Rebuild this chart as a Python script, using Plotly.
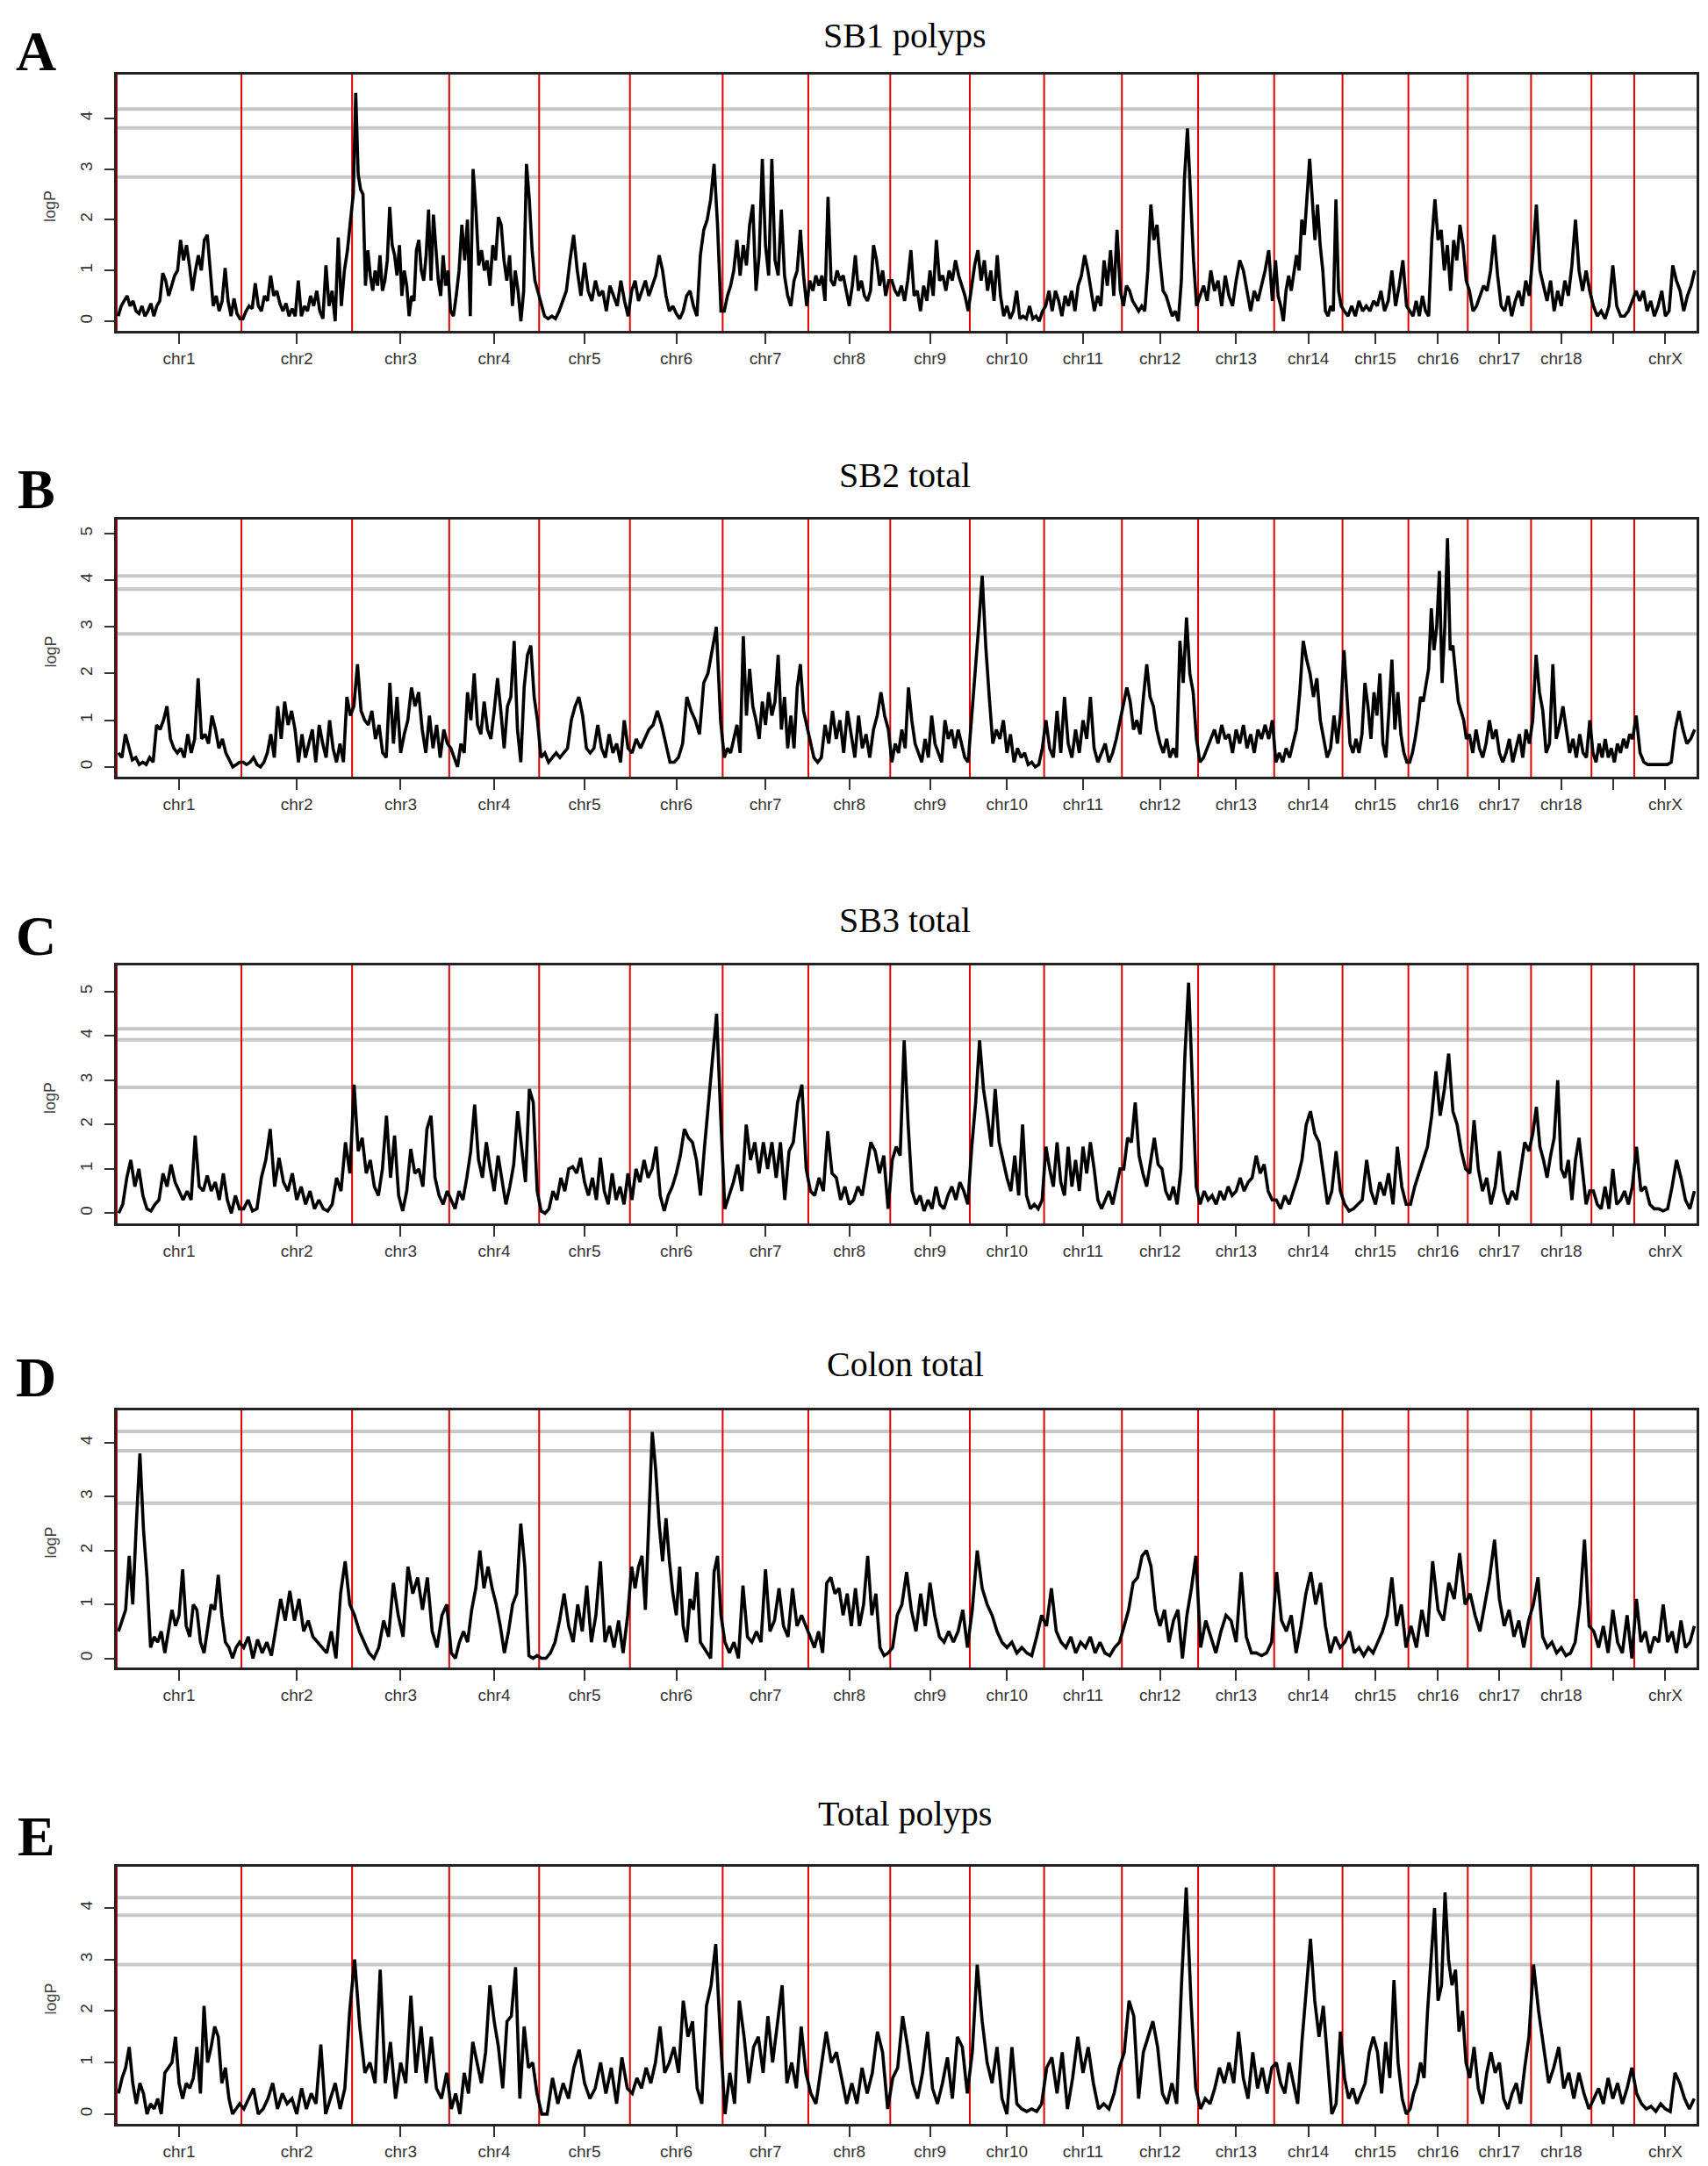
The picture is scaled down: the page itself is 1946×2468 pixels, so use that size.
import plotly.graph_objects as go

# ---------------- data ----------------
chrom_tick_labels = ["chr1", "chr2", "chr3", "chr4", "chr5", "chr6", "chr7", "chr8", "chr9", "chr10",
                     "chr11", "chr12", "chr13", "chr14", "chr15", "chr16", "chr17", "chr18", "", "chrX"]
# chromosome lengths (map units)
chrom_lengths = [142, 126, 110.6, 102.4, 103.4, 105.6, 97.5, 93.3, 90.6, 84.6,
                 88.6, 86.8, 86.6, 77.8, 75, 67.6, 72.1, 68.8, 48.7, 71]

sb1_polyps = [
    [0.1,0.3,0.4,0.5,0.3,0.4,0.2,0.15,0.3,0.1,0.2,0.35,0.1,0.3,0.4,0.95,0.8,0.5,0.7,0.9,1.0,1.6,1.2,1.5,1.1,0.6,1.0,1.3,1.0,1.6,1.7,0.9,0.3,0.5,0.2,0.4,1.05,0.4,0.1,0.45,0.15,0.05],
    [0.05,0.2,0.3,0.25,0.75,0.3,0.2,0.5,0.4,0.9,0.5,0.6,0.35,0.2,0.35,0.1,0.25,0.1,0.8,0.1,0.3,0.2,0.5,0.3,0.6,0.2,0.05,1.1,0.3,0.6,0.0,1.65,0.3,1.0,1.4,2.0],
    [2.5,4.5,2.9,2.6,2.5,0.7,1.4,0.9,0.6,1.0,0.7,1.3,0.6,0.8,1.2,2.25,1.5,1.3,0.9,1.5,0.5,1.0,0.7,0.1,0.5,0.4,1.4,1.6,1.0,0.8,1.3,2.2,0.8,2.1,1.4,0.8,0.5,1.3,0.7,1.0],
    [0.2,0.1,0.5,1.0,1.9,1.2,2.0,0.1,3.0,2.2,1.1,1.4,1.0,1.2,0.7,1.5,1.2,2.05,1.9,1.2,0.8,1.3,0.3,1.0,0.6,0.0,0.6,3.1,2.4,1.4,0.8,0.6],
    [0.4,0.1,0.05,0.1,0.05,0.2,0.4,0.6,1.2,1.7,1.0,0.5,1.15,0.6,0.4,0.8,0.5,0.6,0.2,0.7,0.5,0.3,0.8,0.4,0.1],
    [0.6,0.8,0.4,0.6,0.8,0.5,0.7,0.9,1.3,1.0,0.5,0.2,0.3,0.15,0.05,0.2,0.5,0.6,0.3,0.1,1.3,1.8,2.0,2.4,3.1,1.9,0.2],
    [0.2,0.5,0.7,1.0,1.6,0.9,1.5,1.1,1.9,2.3,0.6,1.3,3.2,1.5,0.9,3.2,1.2,0.9,2.2,0.9,0.5,0.3,0.8,1.0,1.8,0.9,0.3],
    [0.8,0.6,0.9,0.7,0.9,0.4,2.45,0.8,0.7,1.0,0.8,0.9,0.6,0.3,0.7,1.3,0.6,0.8,0.5,0.4,0.6,1.5,1.2,0.7,1.0,0.5,0.8],
    [0.8,0.6,0.5,0.7,0.4,0.8,1.4,0.5,0.6,0.2,0.7,0.4,1.0,0.5,1.6,0.8,0.9,0.6,1.0,0.8,1.2,0.9,0.7,0.5,0.2],
    [0.6,1.1,1.4,0.8,1.2,0.6,1.0,0.4,1.3,0.5,0.1,0.3,0.05,0.2,0.6,0.05,0.1,0.05,0.3,0.05,0.1,0.0,0.2],
    [0.3,0.6,0.2,0.6,0.4,0.1,0.5,0.3,0.6,0.2,0.7,0.9,1.3,1.0,0.6,0.2,0.5,0.3,1.2,0.7,1.4,0.5,1.8,0.6],
    [0.3,0.7,0.6,0.4,0.3,0.2,0.3,0.2,1.0,2.3,1.6,1.9,1.2,0.6,0.5,0.3,0.1,0.2,0.0,0.8,2.8,3.8,2.5,1.2,0.3],
    [0.5,0.7,0.4,1.0,0.6,0.8,0.3,0.9,0.5,0.3,0.8,1.2,1.0,0.6,0.2,0.6,0.4,0.7,1.0,1.4,0.4],
    [1.2,0.5,0.3,0.0,0.6,0.9,0.6,1.0,1.3,1.0,2.0,1.7,2.5,3.2,2.4,1.6,2.3,1.5,1.0,0.2,0.1,0.3,0.2,2.4,0.6,0.3],
    [0.2,0.1,0.3,0.1,0.4,0.2,0.3,0.2,0.4,0.3,0.6,0.2,0.4,1.0,0.3,0.7,1.2,0.3],
    [0.2,0.1,0.4,0.1,0.5,0.2,0.1,1.6,2.4,1.6,1.8,1.0,1.5,0.6,1.6,1.2,1.9,1.5,0.8],
    [0.6,0.2,0.3,0.5,0.7,0.6,1.0,1.7,0.9,0.3,0.2,0.5,0.1,0.4,0.6,0.3,0.8,0.5],
    [1.3,2.3,1.0,0.7,0.4,0.8,0.2,0.6,0.3,0.8,0.5,1.1,2.0,1.0,0.6,1.0,0.6],
    [0.3,0.1,0.2,0.05,0.3,1.1,0.3,0.1,0.1,0.2,0.4],
    [0.6,0.4,0.6,0.2,0.4,0.1,0.3,0.6,0.1,0.2,1.1,0.8,0.6,0.2,0.5,0.7,1.0],
]

sb2_total = [
    [0.3,0.2,0.7,0.4,0.15,0.2,0.05,0.1,0.05,0.2,0.1,0.9,0.8,1.0,1.3,0.6,0.4,0.3,0.4,0.2,0.7,0.3,0.6,1.9,0.6,0.7,0.5,1.1,0.8,0.4,0.6,0.3,0.15,0.0,0.05,0.1],
    [0.1,0.05,0.1,0.2,0.05,0.0,0.1,0.3,0.7,0.2,1.3,0.6,1.4,0.9,1.2,0.8,0.1,0.7,0.2,0.5,0.8,0.1,0.9,0.5,0.2,1.0,0.4,0.1,0.5,0.1,1.5,1.1],
    [1.3,2.2,1.2,1.0,0.9,1.2,0.6,0.9,0.3,0.2,1.8,0.5,1.5,0.3,0.7,1.0,1.7,1.3,1.6,0.8,0.3,1.1,0.4,0.9,0.2,0.8,0.5],
    [0.4,0.2,0.0,0.5,0.3,1.6,1.0,2.0,0.9,0.7,1.4,0.8,0.6,1.2,1.9,1.2,0.4,1.3,1.5,2.7,0.8,0.1,1.7,2.4,2.6,1.5,1.0],
    [0.2,0.3,0.1,0.2,0.3,0.2,0.3,0.4,1.0,1.3,1.5,1.1,0.4,0.3,0.4,0.9,0.4,0.2,0.7,0.3,0.5,0.1,1.0,0.4],
    [0.3,0.6,0.4,0.6,0.8,0.9,1.2,0.9,0.5,0.1,0.1,0.2,0.5,1.5,1.2,1.0,0.7,1.8,2.0,2.5,3.0,1.0],
    [0.2,0.4,0.3,0.6,0.9,0.3,2.8,1.1,2.1,1.3,1.0,0.6,1.4,0.9,1.6,1.1,1.4,2.4,0.8,1.5,0.4,1.1,0.4,1.7,2.2,1.2,0.9],
    [0.6,0.2,0.1,0.2,0.9,0.5,1.2,0.6,1.0,0.3,1.2,0.7,0.2,1.1,0.4,0.7,0.2,0.8,1.1,1.6,1.1,0.8],
    [0.1,0.5,0.3,0.8,0.4,1.7,1.0,0.5,0.3,0.1,0.6,0.2,1.1,0.5,0.3,0.1,1.0,0.6,0.8,0.4,0.8,0.5,0.2,0.1],
    [1.0,2.0,3.0,4.1,2.6,1.5,0.5,0.8,0.6,1.0,0.3,0.7,0.1,0.4,0.2,0.3,0.05,0.1,0.0,0.05,0.4],
    [1.0,0.4,0.2,1.2,0.3,1.5,0.5,0.2,0.8,0.3,1.0,0.6,1.5,0.4,0.1,0.3,0.5,0.1,0.3,0.6,1.0],
    [1.3,1.7,1.4,0.8,1.0,0.7,1.5,2.2,1.5,1.3,0.8,0.5,0.3,0.6,0.2,0.4,0.2,2.7,1.8,3.2,2.0,1.6,0.6],
    [0.1,0.2,0.4,0.6,0.8,0.5,0.9,0.6,0.7,0.3,0.8,0.5,0.9,0.4,0.7,0.3,0.8,0.6,0.9,0.6,1.0],
    [0.1,0.3,0.1,0.4,0.2,0.5,0.8,1.6,2.7,2.3,2.0,1.5,1.9,1.0,0.6,0.2,0.4,1.1,0.5,1.2],
    [2.5,1.5,0.5,0.3,0.6,0.3,0.7,1.8,1.3,0.6,1.6,1.1,2.0,0.5,0.2,1.2,2.3,0.8,1.6,0.7,0.3,0.1],
    [0.1,0.3,0.6,1.0,1.5,1.4,1.8,2.1,3.4,2.5,3.0,4.2,1.8,3.0,4.9,2.5,2.6,2.0,1.4,1.2,1.0,0.6],
    [0.7,0.3,0.8,0.4,0.2,0.5,1.0,0.6,0.8,0.3,0.1,0.3,0.6,0.1,0.4,0.7,0.2,0.8,0.5],
    [1.0,2.4,1.6,1.2,0.3,0.5,2.2,0.6,0.9,1.3,0.8,0.3,0.6,0.2,0.7,0.3,0.2,1.0],
    [0.3,0.1,0.5,0.2,0.6,0.2,0.4,0.1,0.5,0.3,0.6,0.4,0.7,0.6],
    [1.1,0.3,0.1,0.05,0.05,0.05,0.05,0.05,0.05,0.1,0.8,1.2,0.8,0.5,0.6,0.8],
]

sb3_total = [
    [0.0,0.2,0.8,1.2,0.6,1.0,0.4,0.1,0.05,0.2,0.3,0.9,0.6,1.1,0.7,0.5,0.3,0.5,0.3,1.75,0.6,0.5,0.85,0.5,0.7,0.3,0.9,0.3,0.0,0.4,0.1],
    [0.1,0.3,0.05,0.1,0.8,1.2,1.9,0.6,1.25,0.7,0.5,0.9,0.3,0.6,0.2,0.5,0.1,0.3,0.1,0.05,0.2,0.8,0.5,1.6,0.9],
    [2.9,1.4,1.7,0.9,1.2,0.6,0.4,1.0,2.2,0.8,1.75,0.4,0.05,0.5,1.45,0.9,1.0,0.6,1.9,2.2,0.8,0.4,0.2,0.5],
    [0.3,0.1,0.5,0.3,0.8,1.4,2.45,1.2,0.8,1.6,1.0,0.5,1.3,0.7,0.2,0.6,1.1,2.3,1.5,0.7,2.8,2.5,0.5],
    [0.05,0.0,0.1,0.5,0.3,0.8,0.5,1.0,1.05,0.9,1.25,0.7,0.4,0.8,0.3,1.25,0.5,0.2,0.9,0.3,0.6,0.2,0.9],
    [0.3,1.0,0.7,1.2,0.8,1.0,1.5,0.4,0.05,0.4,0.6,0.9,1.3,1.9,1.7,1.6,1.2,0.4,1.5,2.5,3.6,4.5,2.2],
    [0.1,0.4,0.7,1.1,0.5,2.0,1.2,1.6,0.9,1.6,1.0,1.6,0.8,1.6,0.3,1.4,1.6,2.5,2.9,1.0],
    [0.5,0.4,0.8,0.5,1.85,0.9,0.8,0.3,0.6,0.2,0.3,0.6,0.4,1.0,1.6,1.4,0.9,1.3,0.1],
    [1.2,1.5,1.3,3.9,2.0,0.5,0.2,0.4,0.05,0.3,0.1,0.6,0.2,0.1,0.4,0.6,0.3,0.7,0.5,0.2],
    [1.5,2.5,3.9,2.8,2.2,1.5,2.8,1.6,1.2,0.8,0.5,1.3,0.4,2.0,0.4,0.1,0.2,0.1,0.3],
    [1.5,1.0,0.6,1.6,0.7,0.4,1.5,0.6,1.2,0.5,1.5,0.9,1.6,1.0,0.3,0.1,0.3,0.5,0.2,0.6,1.0],
    [1.0,1.7,1.6,2.5,1.3,0.9,0.6,1.2,1.7,1.1,1.0,0.5,0.3,0.6,0.2,1.0,3.5,5.2,3.0,0.6],
    [0.2,0.5,0.3,0.4,0.2,0.5,0.3,0.6,0.4,0.5,0.8,0.5,0.7,0.8,1.3,0.9,1.1,0.5,0.3],
    [0.3,0.1,0.4,0.2,0.5,0.8,1.2,2.0,2.3,1.8,1.6,0.9,0.2,0.5,1.4,0.5],
    [0.2,0.05,0.1,0.2,0.3,1.2,0.5,0.2,0.7,0.4,0.9,0.2,1.5,0.6,0.2],
    [0.2,0.6,0.9,1.2,1.5,2.2,3.2,2.2,2.8,3.6,2.3,2.0,1.4,1.0],
    [0.9,2.1,1.0,0.5,0.8,0.2,0.6,1.4,0.5,0.2,0.5,0.3,0.9,1.6,1.4],
    [1.8,2.4,1.5,1.2,0.8,1.3,1.7,3.0,1.0,0.8,1.2,0.3,1.2,1.7,1.0,0.2,0.5],
    [0.5,0.2,0.1,0.6,0.1,1.0,0.2,0.3,0.5,0.2,0.6],
    [1.5,0.5,0.6,0.2,0.1,0.1,0.05,0.1,0.6,1.2,0.8,0.3,0.1,0.5],
]

colon_total = [
    [0.5,0.7,0.9,1.9,1.0,2.5,3.8,2.4,1.5,0.2,0.4,0.3,0.5,0.1,0.5,0.9,0.6,0.8,1.65,0.6,0.4,1.0,0.9,0.3,0.1,0.6,1.0,0.9,1.55,0.8,0.3,0.2,0.0,0.2,0.3],
    [0.2,0.4,0.0,0.35,0.1,0.3,0.05,0.6,1.1,0.7,1.25,0.7,1.1,0.5,0.7,0.4,0.3,0.2,0.1,0.5,0.0,1.2,1.8,1.0],
    [0.8,0.5,0.3,0.1,0.0,0.2,0.7,0.4,1.4,0.8,0.4,1.7,1.2,1.5,0.9,1.5,0.5,0.2,0.8,1.0],
    [0.1,0.0,0.3,0.5,0.3,0.9,1.3,2.0,1.3,1.7,1.3,1.0,0.6,0.1,0.5,1.0,1.2,2.5,1.7,0.05,0.0,0.05],
    [0.0,0.0,0.1,0.3,0.7,1.2,0.6,0.3,1.0,0.5,1.35,0.3,0.8,1.8,0.3,0.6,0.2,0.7,0.1,0.8],
    [1.7,1.3,1.7,1.9,0.9,2.5,4.2,3.5,2.5,1.8,2.6,1.8,1.2,0.8,1.7,0.6,0.3,1.1,0.9,1.6,0.3,0.2,0.1,0.0,1.6,1.9,0.8],
    [0.3,0.1,0.3,0.0,1.35,0.4,0.3,0.5,0.3,1.65,0.5,0.7,1.3,0.6,0.4,1.3,0.6,0.8,0.6],
    [0.4,0.2,0.5,0.1,1.4,1.5,1.2,1.3,0.8,1.2,0.6,1.3,0.6,1.0,1.9,0.8,1.2,0.2,0.05,0.1],
    [0.2,0.8,1.0,1.6,0.9,0.5,1.2,0.6,1.4,0.8,0.4,0.3,0.5,0.3,0.5,0.9,0.2],
    [0.9,2.0,1.3,1.0,0.8,0.5,0.3,0.2,0.3,0.1,0.2,0.1,0.05,0.4,0.8],
    [0.6,1.3,0.5,0.3,0.2,0.4,0.1,0.3,0.2,0.4,0.1,0.3,0.1,0.05,0.2,0.3],
    [0.6,0.9,1.4,1.5,1.9,2.0,1.7,0.9,0.6,0.9,0.3,0.7,0.9,0.0,0.8,1.3,1.9],
    [0.2,0.7,0.4,0.1,0.5,0.8,0.7,0.3,1.6,0.4,0.1,0.1,0.05,0.1,0.3],
    [1.6,0.7,0.5,0.8,0.1,0.6,1.2,1.6,1.0,1.4,0.6,0.1,0.4,0.2],
    [0.3,0.5,0.1,0.2,0.05,0.2,0.1,0.3,0.5,0.8,1.5,0.6,1.0,0.2],
    [0.6,0.2,0.9,0.4,1.8,0.9,0.7,1.4,1.1,1.95,1.0],
    [1.2,0.8,0.5,1.0,1.5,2.2,1.1,0.6,0.9,0.4,0.7,0.2,0.7],
    [1.0,1.5,0.4,0.2,0.3,0.1,0.2,0.05,0.1,0.3,1.0,2.2,0.6],
    [0.5,0.2,0.6,0.1,0.9,0.3,0.1,0.8,0.0],
    [1.1,0.3,0.5,0.1,0.4,0.3,1.0,0.3,0.5,0.1,0.7,0.2,0.3,0.6],
]

total_polyps = [
    [0.4,0.7,0.9,1.3,0.6,0.2,0.6,0.4,0.0,0.2,0.1,0.3,0.0,0.8,0.9,1.0,1.5,0.6,0.3,0.6,0.5,0.7,1.3,0.4,2.1,1.0,1.3,1.7,1.5,0.6,0.9,0.3,0.0,0.1,0.2],
    [0.1,0.3,0.5,0.0,0.1,0.3,0.6,0.1,0.4,0.2,0.3,0.0,0.5,0.1,0.4,0.2,1.35,0.0,0.3,0.6,0.1,0.5,2.0],
    [3.0,1.7,0.8,1.0,0.6,2.8,0.6,1.4,0.3,1.0,0.6,2.3,0.8,1.7,0.6,1.5,0.5,0.3,0.8],
    [0.1,0.4,0.0,0.8,0.4,1.4,1.0,0.6,1.2,2.5,1.8,1.3,0.5,1.8,1.9,2.85,0.3,1.7,0.9,1.0,0.4],
    [0.0,0.0,0.7,0.2,0.6,0.3,0.9,1.25,0.6,0.3,0.5,1.0,0.4,0.9,0.2,1.1,0.5],
    [0.4,0.7,0.5,0.9,0.6,1.0,1.7,0.8,1.0,1.3,0.8,2.2,1.5,1.8,0.5,0.2,2.1,2.5,3.3,1.5],
    [0.0,0.8,0.2,2.2,1.5,0.6,1.3,1.5,0.8,1.9,1.0,1.8,2.5,0.6,1.0,0.5,1.7,0.8],
    [0.4,0.2,0.9,1.6,1.0,1.2,0.7,0.2,0.6,0.2,0.9,0.4,0.8,1.6,1.2,0.1],
    [0.7,0.9,1.9,1.3,0.6,0.3,0.8,1.6,0.5,0.2,0.6,1.1,0.3,1.5,1.3,0.4],
    [1.2,2.9,1.8,1.0,0.6,1.3,0.3,0.0,1.3,0.2,0.1,0.05,0.1,0.05,0.2],
    [0.9,1.1,0.4,1.2,0.1,0.7,1.5,0.8,1.3,0.6,0.1,0.2,0.1,0.4,0.9],
    [1.2,2.2,1.9,0.3,1.2,1.5,1.8,1.3,0.4,0.2,0.6,0.2,2.5,4.4,2.2,0.5],
    [0.1,0.3,0.2,0.5,0.9,0.6,1.0,0.6,1.6,0.7,0.3,1.2,0.5,0.9,0.4,0.9],
    [1.0,0.6,0.4,1.0,0.6,0.2,1.4,2.4,3.4,2.2,1.5,2.1,1.0,0.0,0.2,1.6],
    [0.7,0.3,0.5,0.2,0.4,0.6,1.2,1.5,1.2,0.4,1.4,0.7,2.6,1.0,0.3,0.0],
    [0.1,0.4,0.6,1.0,0.7,2.0,3.0,4.0,2.2,2.5,4.3,3.0,2.5,2.8,1.6,2.0,1.0],
    [0.7,1.3,0.5,0.2,0.8,1.2,0.8,1.0,0.3,0.1,0.4,0.6,0.2,0.9,1.5],
    [2.9,2.0,1.3,0.6,0.9,1.3,0.5,0.8,0.3,0.8,0.4,0.1],
    [0.3,0.5,0.2,0.7,0.3,0.6,0.2,0.5,0.9],
    [0.4,0.2,0.1,0.15,0.05,0.2,0.1,0.05,0.8,0.6,0.3,0.1,0.3],
]

panel_series = [sb1_polyps, sb2_total, sb3_total, colon_total, total_polyps]
panel_titles = ["SB1 polyps", "SB2 total", "SB3 total", "Colon total", "Total polyps"]
panel_letters = ["A", "B", "C", "D", "E"]
panel_ymax_tick = [4, 5, 5, 4, 4]
panel_yranges = [[-0.19, 4.86], [-0.21, 5.30], [-0.23, 5.59], [-0.17, 4.60], [-0.19, 4.80]]
panel_thresholds = [[4.18, 3.81, 2.84], [4.09, 3.81, 2.85], [4.16, 3.91, 2.84],
                    [4.21, 3.85, 2.88], [4.20, 3.86, 2.90]]

# ---------------- layout geometry (pixels) ----------------
W, H = 1946, 2468
box_left, box_right = 125, 1925
box_tops = [77, 584, 1092, 1599, 2119]
box_bottoms = [369, 877, 1386, 1892, 2412]
title_ys = [33, 533, 1040, 1546, 2058]
letter_ys = [50, 549, 1058, 1561, 2084]

starts = []
acc = 0.0
for L in chrom_lengths:
    starts.append(acc)
    acc += L
total_len = acc
mids = [s + L / 2 for s, L in zip(starts, chrom_lengths)]

fig = go.Figure()
layout = dict(width=W, height=H, margin=dict(l=0, r=0, t=0, b=0),
              paper_bgcolor="white", plot_bgcolor="white", showlegend=False)
shapes = []
annotations = []

tick_font = dict(family="Liberation Sans, Arial, sans-serif", size=19, color="#333333")

for k in range(5):
    idx = k + 1
    xr = "x" if idx == 1 else f"x{idx}"
    yr = "y" if idx == 1 else f"y{idx}"
    xs, ys = [], []
    for c, vals in enumerate(panel_series[k]):
        n = len(vals)
        for i, v in enumerate(vals):
            xs.append(starts[c] + chrom_lengths[c] * (i + 0.5) / n)
            ys.append(v)
    fig.add_trace(go.Scatter(x=xs, y=ys, mode="lines",
                             line=dict(color="black", width=3.6),
                             xaxis=xr, yaxis=yr, hoverinfo="skip"))

    ydom = [1 - box_bottoms[k] / H, 1 - box_tops[k] / H]
    xdom = [box_left / W, box_right / W]
    xname = "xaxis" if idx == 1 else f"xaxis{idx}"
    yname = "yaxis" if idx == 1 else f"yaxis{idx}"
    layout[xname] = dict(domain=xdom, range=[0, total_len], anchor=yr,
                         tickvals=mids, ticktext=chrom_tick_labels,
                         ticks="outside", ticklen=12, tickwidth=2, tickcolor="#333333",
                         showgrid=False, zeroline=False, showline=True, mirror=True,
                         linewidth=3, linecolor="#222222", tickfont=tick_font,
                         ticklabelstandoff=0, fixedrange=True)
    layout[yname] = dict(domain=ydom, range=panel_yranges[k], anchor=xr,
                         tickvals=list(range(0, panel_ymax_tick[k] + 1)),
                         ticks="outside", ticklen=11, tickwidth=2, tickcolor="#333333",
                         tickangle=-90, showgrid=False, zeroline=False, showline=True,
                         mirror=True, linewidth=3, linecolor="#222222", tickfont=tick_font,
                         ticklabelstandoff=6, fixedrange=True)

    for t in panel_thresholds[k]:
        shapes.append(dict(type="line", xref=f"{xr} domain", yref=yr,
                           x0=0, x1=1, y0=t, y1=t, layer="below",
                           line=dict(color="#c8c8c8", width=4)))
    for s in starts:
        shapes.append(dict(type="line", xref=xr, yref=f"{yr} domain",
                           x0=s, x1=s, y0=0, y1=1, layer="below",
                           line=dict(color="#e00000", width=2)))

    annotations.append(dict(text=panel_titles[k], xref="paper", yref="paper",
                            x=1023 / W, y=1 - title_ys[k] / H, xanchor="center", yanchor="middle",
                            showarrow=False,
                            font=dict(family="Liberation Serif, Times New Roman, serif",
                                      size=40, color="black")))
    annotations.append(dict(text=f"<b>{panel_letters[k]}</b>", xref="paper", yref="paper",
                            x=33 / W, y=1 - letter_ys[k] / H, xanchor="center", yanchor="middle",
                            showarrow=False,
                            font=dict(family="Liberation Serif, Times New Roman, serif",
                                      size=64, color="black")))
    annotations.append(dict(text="logP", xref="paper", yref="paper",
                            x=49 / W, y=1 - ((box_tops[k] + box_bottoms[k]) / 2 + 4) / H,
                            xanchor="center", yanchor="middle", showarrow=False, textangle=-90,
                            font=dict(family="Liberation Sans, Arial, sans-serif",
                                      size=18, color="#444444")))

layout["shapes"] = shapes
layout["annotations"] = annotations
fig.update_layout(**layout)
fig.write_html("out.html")
